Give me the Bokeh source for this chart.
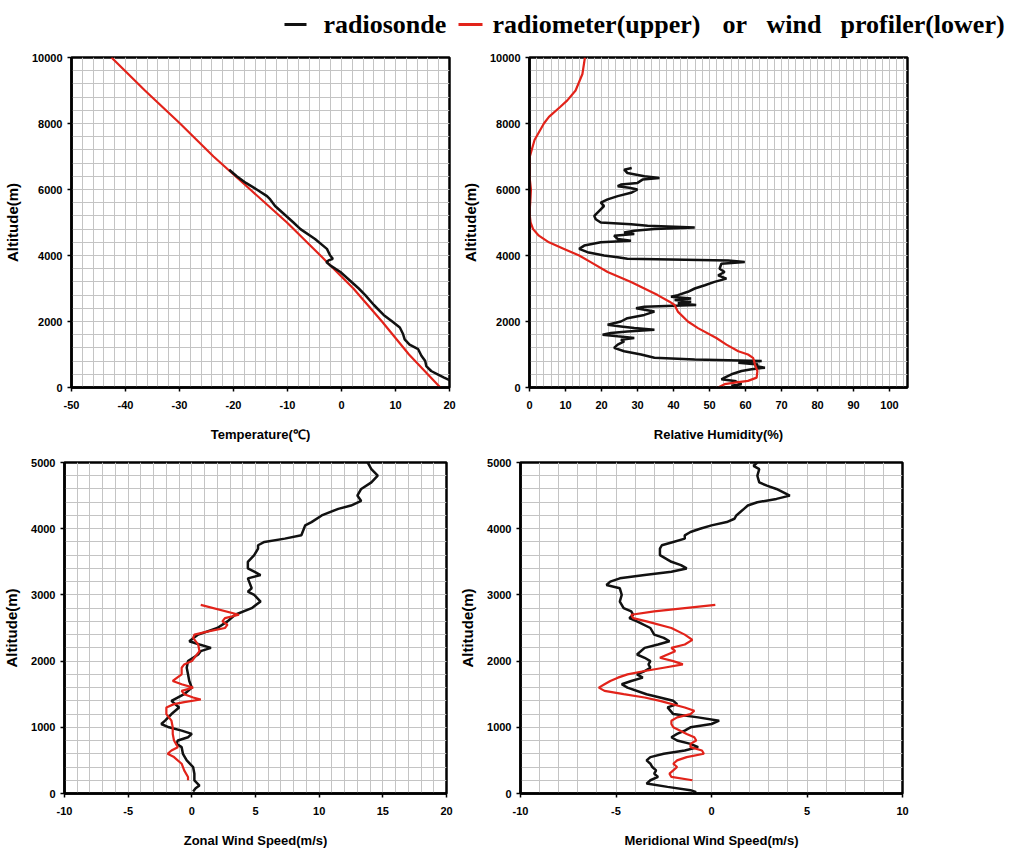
from bokeh.plotting import figure
from bokeh.layouts import column, row
from bokeh.models import Range1d, SingleIntervalTicker, Label, BoxAnnotation
from bokeh.embed import file_html
from bokeh.resources import INLINE

# ---------------- data ----------------
# Temperature (deg C) vs altitude (m)
temp_alt_sonde = [220, 300, 400, 500, 650, 800, 960, 1160, 1300, 1460, 1620, 1820, 2000,
                  2200, 2500, 2800, 3000, 3500, 3700, 3800, 3850, 3900, 4000, 4200, 4500,
                  4800, 5000, 5500, 5700, 5800, 6000, 6200, 6400, 6600]
temp_sonde = [20.0, 19.0, 17.8, 16.6, 15.7, 15.5, 14.8, 14.2, 12.6, 11.7, 11.4, 10.8, 9.4,
              7.8, 6.0, 4.4, 3.2, -0.2, -2.1, -2.8, -2.4, -1.6, -2.1, -2.7, -4.9,
              -7.6, -8.9, -12.3, -13.2, -13.8, -15.7, -17.7, -19.4, -20.8]
temp_alt_radiometer = [0, 1000, 2000, 3000, 4000, 5000, 6000, 7000, 8000, 9000, 10000]
temp_radiometer = [18.3, 12.5, 7.5, 2.2, -3.9, -10.1, -16.9, -23.7, -29.9, -36.4, -42.6]

# Relative humidity (%) vs altitude (m)
rh_alt_sonde = [0, 50, 100, 200, 250, 300, 400, 500, 550, 600, 650, 700, 750, 800, 850,
                900, 1000, 1100, 1200, 1300, 1400, 1450, 1500, 1550, 1600, 1650, 1700,
                1750, 1800, 1850, 1900, 2000, 2100, 2200, 2300, 2400, 2450, 2500, 2550,
                2600, 2650, 2700, 2750, 2800, 2900, 3000, 3100, 3200, 3300, 3400, 3500,
                3600, 3750, 3800, 3850, 3900, 3950, 4000, 4100, 4200, 4300, 4400, 4450,
                4500, 4600, 4650, 4700, 4750, 4800, 4850, 4900, 4950, 5000, 5100, 5200,
                5300, 5400, 5500, 5600, 5700, 5800, 5900, 6000, 6050, 6100, 6150, 6200,
                6300, 6350, 6400, 6500, 6600, 6650]
rh_sonde = [58, 56.1, 58.9, 57, 53.3, 54.2, 56.1, 58.9, 61.7, 65.4, 62.6, 63.5, 58, 64.5,
            45.9, 34.7, 31, 26.3, 23.5, 24.5, 26.3, 25.4, 29.1, 24.5, 20.3, 22.6, 27.2,
            34.7, 29.1, 25.4, 21.7, 25.4, 27.2, 31.9, 34.7, 29.6, 31.9, 46.3, 41.2,
            44.9, 40.3, 44.9, 39.3, 41.2, 44, 45.9, 48.7, 51.4, 54.7, 52.4, 54.2,
            52.8, 53.3, 59.8, 55.2, 27.2, 24.5, 20.7, 16.1, 13.8, 15.2, 19.8, 28.2,
            24.5, 23.5, 29.1, 26.3, 29.1, 34.7, 45.9, 32.8, 28.2, 19.8, 18.4, 18,
            18.9, 19.8, 20.7, 19.8, 21.7, 24.5, 28.2, 30, 27.7, 24.5, 25.4, 30,
            31.4, 36.1, 31.9, 27.2, 26.3, 28.4]
rh_alt_radiometer = [0, 100, 150, 200, 300, 500, 700, 800, 900, 1000, 1100, 1300, 1500,
                     1800, 2000, 2300, 2500, 2600, 2800, 3000, 3200, 3500, 3800, 4000,
                     4200, 4400, 4600, 4800, 5000, 5300, 5600, 5800, 6000, 6200, 6400,
                     6900, 7000, 7500, 8000, 8200, 8500, 8700, 9000, 9500, 10000]
rh_radiometer = [52.4, 54.2, 57, 60.7, 63.1, 63.3, 62.6, 62.4, 62.1, 60.7, 58, 54.7, 51.9,
                 46.8, 44, 41.2, 40.3, 38.9, 35.6, 31.9, 28.2, 21.7, 17, 13.8,
                 9.6, 5.4, 2.6, 1.0, 0.3, 0.0, 0.2, 0.3, 0.4, 0.2, 0.0,
                 0.0, 0.1, 1.4, 4.0, 5.4, 8.5, 10.5, 12.8, 14.7, 15.4]

# Zonal wind (m/s) vs altitude (m)
zonal_alt_sonde = [30, 80, 120, 200, 300, 400, 500, 600, 700, 750, 800, 850, 900, 950,
                   1000, 1050, 1100, 1200, 1300, 1400, 1500, 1600, 1700, 1800, 1900,
                   2000, 2100, 2150, 2200, 2250, 2300, 2400, 2500, 2600, 2700, 2800,
                   2900, 3000, 3050, 3100, 3200, 3250, 3300, 3350, 3400, 3500, 3600,
                   3700, 3750, 3800, 3850, 3900, 4000, 4050, 4100, 4200, 4300, 4350,
                   4420, 4500, 4600, 4700, 4800, 4900, 5000]
zonal_sonde = [0.1, 0.3, 0.6, 0.2, 0.2, 0.1, -0.4, -0.7, -0.8, -1.2, -1.1, -0.3, 0.0, -0.8,
               -1.8, -2.4, -2.1, -1.6, -1.0, -1.6, -0.6, 0.0, -0.2, -0.3, -0.4,
               -0.3, 0.5, 0.7, 1.5, 0.6, -0.2, 0.5, 2.0, 2.8, 3.4, 4.7,
               5.4, 4.9, 4.4, 4.7, 4.5, 4.4, 5.4, 4.9, 4.4, 4.4, 4.9,
               5.2, 5.2, 5.7, 7.3, 8.6, 8.8, 8.9, 9.4, 10.2, 11.5, 12.5,
               13.3, 13.0, 13.3, 14.1, 14.6, 14.1, 13.8]
zonal_alt_profiler = [200, 250, 350, 450, 550, 600, 650, 700, 800, 900, 1000, 1100, 1200,
                      1300, 1350, 1380, 1420, 1450, 1500, 1550, 1600, 1650, 1700, 1800,
                      1900, 1950, 2000, 2050, 2150, 2250, 2350, 2400, 2450, 2500, 2550,
                      2600, 2650, 2700, 2850]
zonal_profiler = [-0.3, -0.3, -0.6, -0.8, -1.4, -1.9, -1.6, -1.1, -1.4, -1.5, -1.5, -1.6, -2.0,
                  -2.0, -1.4, -0.6, 0.7, 0.1, -0.6, -0.8, 0.1, -0.8, -1.5, -0.8,
                  -0.8, -0.6, 0.0, 0.2, 0.6, 0.5, 0.1, 0.2, 1.3, 2.6, 2.8,
                  2.4, 2.6, 3.7, 0.7]

# Meridional wind (m/s) vs altitude (m)
merid_alt_sonde = [20, 50, 100, 150, 200, 250, 300, 350, 400, 450, 500, 550, 600, 650, 700,
                   750, 800, 850, 900, 950, 1000, 1050, 1100, 1150, 1200, 1300, 1350, 1400,
                   1450, 1500, 1600, 1650, 1700, 1750, 1800, 1850, 1900, 1950, 2000, 2050,
                   2100, 2200, 2250, 2300, 2350, 2400, 2500, 2600, 2650, 2700, 2750, 2800,
                   2900, 3000, 3100, 3150, 3200, 3250, 3300, 3350, 3400, 3450, 3500, 3600,
                   3700, 3750, 3800, 3850, 3900, 3950, 4000, 4050, 4100, 4150, 4200, 4300,
                   4350, 4400, 4450, 4500, 4600, 4650, 4700, 4800, 4900, 4950, 5000]
merid_sonde = [-0.8, -1.1, -2.3, -3.4, -3.2, -2.8, -3.0, -2.9, -3.1, -3.2, -3.4, -3.2, -2.5,
               -1.4, -0.7, -1.1, -1.8, -2.1, -1.8, -1.4, -1.1, 0.0, 0.4, -0.7, -2.0, -2.3,
               -1.8, -2.0, -2.7, -3.4, -4.4, -4.7, -4.2, -3.6, -3.9, -3.5, -3.2, -3.3,
               -3.2, -3.5, -3.9, -3.5, -2.8, -2.2, -2.5, -3.0, -3.2, -3.9, -4.3, -4.1,
               -4.2, -4.6, -4.8, -4.7, -4.8, -5.5, -5.3, -4.8, -3.5, -2.1, -1.3, -1.6,
               -2.1, -2.7, -2.7, -2.6, -2.0, -1.4, -1.4, -1.1, -0.6, 0.0, 0.8, 1.2, 1.3,
               1.7, 1.9, 2.4, 3.4, 4.1, 3.4, 2.9, 2.5, 2.4, 2.5, 2.2, 2.4]
merid_alt_profiler = [200, 250, 300, 350, 400, 450, 500, 550, 600, 650, 700, 750, 800, 850,
                      900, 1000, 1050, 1100, 1150, 1200, 1250, 1300, 1400, 1450, 1500, 1550,
                      1600, 1650, 1700, 1750, 1800, 1850, 1900, 1950, 2000, 2050, 2100,
                      2150, 2200, 2250, 2320, 2400, 2500, 2600, 2650, 2700, 2750, 2800, 2850]
merid_profiler = [-1.0, -2.1, -2.2, -2.0, -1.8, -2.0, -1.8, -1.3, -0.4, -0.5, -1.1, -1.1, -0.8,
                  -0.9, -1.3, -2.0, -2.1, -2.1, -1.8, -1.1, -0.9, -1.4, -2.7, -3.5, -4.6,
                  -5.6, -5.9, -5.6, -5.3, -4.9, -4.4, -3.5, -2.5, -1.5, -2.0, -2.7, -2.3,
                  -1.9, -2.1, -1.4, -1.0, -1.4, -2.1, -3.4, -4.1, -4.2, -3.0, -1.4, 0.2]

legend_labels = ["radiosonde", "radiometer(upper)", "or", "wind", "profiler(lower)"]
x_titles = ["Temperature(\u2103)", "Relative Humidity(%)",
            "Zonal Wind Speed(m/s)", "Meridional Wind Speed(m/s)"]
y_title = "Altitude(m)"

# ---------------- styling ----------------
BLACK = "#111111"
RED = "#e2231a"
GRID = "#c4c4c4"
SANS = "Liberation Sans"
SERIF = "Liberation Serif"


def panel(xr, yr, xint, xminor, yint, yminor, xtitle, left, right, top, bottom, fw, fh):
    p = figure(x_range=Range1d(*xr), y_range=Range1d(*yr),
               frame_width=fw, frame_height=fh,
               min_border_left=left, min_border_right=right,
               min_border_top=top, min_border_bottom=bottom,
               output_backend="svg", toolbar_location=None)
    p.xaxis.ticker = SingleIntervalTicker(interval=xint, num_minor_ticks=xminor)
    p.yaxis.ticker = SingleIntervalTicker(interval=yint, num_minor_ticks=yminor)
    xt = list(range(int(xr[0]), int(xr[1]) + 1, xint))
    yt = list(range(int(yr[0]), int(yr[1]) + 1, yint))
    p.xaxis.major_label_overrides = {v: str(v) for v in xt}
    p.yaxis.major_label_overrides = {v: str(v) for v in yt}
    for g in (p.xgrid, p.ygrid):
        g.grid_line_color = GRID
        g.grid_line_width = 1
        g.minor_grid_line_color = GRID
        g.minor_grid_line_width = 1
    for ax in (p.xaxis, p.yaxis):
        ax.axis_line_width = 2.5
        ax.axis_line_color = "black"
        ax.major_tick_in = 0
        ax.major_tick_out = 4
        ax.major_tick_line_width = 1.5
        ax.major_tick_line_color = "black"
        ax.minor_tick_line_color = None
        ax.major_label_text_font = SANS
        ax.major_label_text_font_style = "bold"
        ax.major_label_text_font_size = "11px"
        ax.major_label_text_color = "black"
        ax.axis_label_text_font = SANS
        ax.axis_label_text_font_style = "bold"
        ax.axis_label_text_color = "black"
    p.xaxis.major_label_standoff = 9
    p.yaxis.major_label_standoff = 5
    p.xaxis.axis_label = xtitle
    p.xaxis.axis_label_text_font_size = "13px"
    p.xaxis.axis_label_standoff = 15
    p.yaxis.axis_label = y_title
    p.yaxis.axis_label_text_font_size = "15px"
    p.yaxis.axis_label_standoff = 8
    p.outline_line_color = "black"
    p.outline_line_width = 2.5
    p.outline_line_alpha = 1
    p.background_fill_color = "white"
    p.border_fill_color = "white"
    return p


p1 = panel((-50, 20), (0, 10000), 10, 5, 2000, 5, x_titles[0], 68, 9, 9, 63, 378, 330)
p1.line(temp_radiometer, temp_alt_radiometer, line_color=RED, line_width=2.2)
p1.line(temp_sonde, temp_alt_sonde, line_color=BLACK, line_width=2.5)

p2 = panel((0, 105), (0, 10000), 10, 5, 2000, 5, x_titles[1], 68, 10, 9, 63, 378, 330)
p2.line(rh_sonde, rh_alt_sonde, line_color=BLACK, line_width=2.5)
p2.line(rh_radiometer, rh_alt_radiometer, line_color=RED, line_width=2.2)

p3 = panel((-10, 20), (0, 5000), 5, 5, 1000, 5, x_titles[2], 63, 10, 12, 60, 382, 331)
p3.line(zonal_sonde, zonal_alt_sonde, line_color=BLACK, line_width=2.5)
p3.line(zonal_profiler, zonal_alt_profiler, line_color=RED, line_width=2.2)

p4 = panel((-10, 10), (0, 5000), 5, 5, 1000, 5, x_titles[3], 63, 10, 12, 60, 382, 331)
p4.line(merid_sonde, merid_alt_sonde, line_color=BLACK, line_width=2.5)
p4.line(merid_profiler, merid_alt_profiler, line_color=RED, line_width=2.2)

# ---------------- legend strip ----------------
leg = figure(width=1010, height=48, x_range=Range1d(0, 1010), y_range=Range1d(0, 48),
             min_border=0, output_backend="svg", toolbar_location=None)
leg.axis.visible = False
leg.grid.visible = False
leg.outline_line_color = None
leg.add_layout(BoxAnnotation(left=284, right=306, bottom=22.5, top=25.5,
                             fill_color=BLACK, fill_alpha=1, line_color=None))
leg.add_layout(BoxAnnotation(left=458, right=482, bottom=22.5, top=25.5,
                             fill_color=RED, fill_alpha=1, line_color=None))
leg_x = [323, 492, 722, 766, 840]
for lx, txt in zip(leg_x, legend_labels):
    leg.add_layout(Label(x=lx, y=24, text=txt, text_font=SERIF,
                         text_font_size="26px", text_font_style="bold",
                         text_baseline="middle", text_color="black"))

layout = column(leg, row(p1, p2), row(p3, p4))
open("out.html", "w").write(file_html(layout, INLINE))
